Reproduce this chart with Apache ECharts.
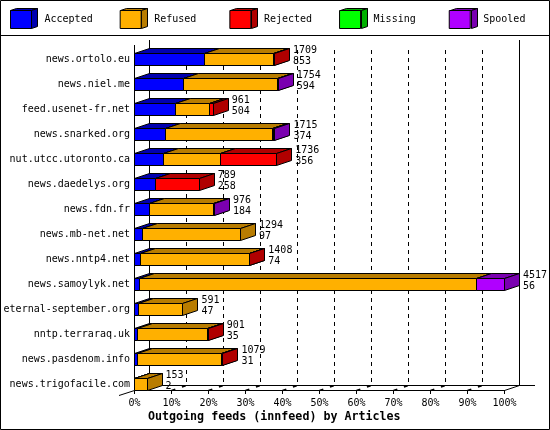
<!DOCTYPE html>
<html><head><meta charset="utf-8">
<style>html,body{margin:0;padding:0;background:#fff}#c{width:550px;height:430px}</style>
<script src="https://cdn.jsdelivr.net/npm/echarts@6/dist/echarts.min.js"></script>
</head><body><div id="c"></div>
<script>
const categories = ["news.ortolo.eu","news.niel.me","feed.usenet-fr.net","news.snarked.org","nut.utcc.utoronto.ca","news.daedelys.org","news.fdn.fr","news.mb-net.net","news.nntp4.net","news.samoylyk.net","eternal-september.org","nntp.terraraq.uk","news.pasdenom.info","news.trigofacile.com"];
const totals   = [1709,1754,961,1715,1736,789,976,1294,1408,4517,591,901,1079,153];
const accepted = [853,594,504,374,356,258,184,97,74,56,47,35,31,2];
const refused  = [840,1150,412,1308,696,0,783,1197,1328,4117,544,854,1034,151];
const rejected = [16,0,45,16,684,531,0,0,6,0,0,12,14,0];
const missing  = [0,0,0,0,0,0,0,0,0,0,0,0,0,0];
const spooled  = [0,10,0,17,0,0,9,0,0,344,0,0,0,0];
const seriesNames = ["Accepted","Refused","Rejected","Missing","Spooled"];
const faceColors = ["#0000FF","#FFB000","#FF0000","#00FF00","#B000FF"];
const darkColors = ["#0000B0","#B87C00","#B00000","#00B000","#7A00B0"];
const xTicks = [0,10,20,30,40,50,60,70,80,90,100];
const title = "Outgoing feeds (innfeed) by Articles";

const FONT = '"DejaVu Sans Mono"';
const DX = 15, DY = 5;
const maxTotal = Math.max(...totals);
const pct = v => v / maxTotal * 100;
const snap = v => Math.round(v - 0.5) + 0.5;

function barItem(seriesIdx) {
  return function (params, api) {
    const s = api.value(0), e = api.value(1), cat = api.value(2);
    if (e <= s) return null;
    const p0 = api.coord([s, cat]), p1 = api.coord([e, cat]);
    const x0 = snap(p0[0]), x1 = snap(p1[0]);
    const top = snap(p0[1] - 6.5), bot = snap(p0[1] + 6);
    const line = { stroke: '#000', lineWidth: 1 };
    const dark = darkColors[seriesIdx];
    return { type: 'group', children: [
      { type: 'polygon', shape: { points: [[x0, top],[x0 + DX, top - DY],[x1 + DX, top - DY],[x1, top]] }, style: { fill: dark, ...line } },
      { type: 'polygon', shape: { points: [[x1, top],[x1 + DX, top - DY],[x1 + DX, bot - DY],[x1, bot]] }, style: { fill: dark, ...line } },
      { type: 'rect', shape: { x: x0, y: top, width: x1 - x0, height: bot - top }, style: { fill: faceColors[seriesIdx], ...line } }
    ]};
  };
}

const stacks = [accepted, refused, rejected, missing, spooled];
const running = categories.map(() => 0);
const barSeries = stacks.map((arr, si) => {
  const data = arr.map((v, i) => {
    const s = running[i]; running[i] += v;
    return [pct(s), pct(running[i]), i];
  });
  return {
    type: 'custom', name: seriesNames[si], xAxisIndex: 0, yAxisIndex: 0, z: 5 + si,
    clip: false, itemStyle: { color: faceColors[si] },
    encode: { x: [0, 1], y: 2 }, data, renderItem: barItem(si)
  };
});

const labelSeries = {
  type: 'custom', name: 'values', xAxisIndex: 0, yAxisIndex: 0, z: 20, clip: false, silent: true,
  encode: { x: 0, y: 1 },
  data: totals.map((t, i) => [pct(t), i, t, accepted[i]]),
  renderItem(params, api) {
    const p = api.coord([api.value(0), api.value(1)]);
    const st = t => ({ text: String(t), fill: '#000', font: '10px ' + FONT, textAlign: 'left', textVerticalAlign: 'middle' });
    return { type: 'group', children: [
      { type: 'text', x: p[0] + 18.5, y: p[1] - 9.5, style: st(api.value(2)) },
      { type: 'text', x: p[0] + 18.5, y: p[1] + 1.5, style: st(api.value(3)) }
    ]};
  }
};

const floorSeries = {
  type: 'custom', name: 'floor', xAxisIndex: 0, yAxisIndex: 0, z: 2, clip: false, silent: true,
  encode: { x: 0 },
  data: xTicks.slice(1, -1).map(t => [t]),
  renderItem(params, api) {
    const x = snap(api.coord([api.value(0), 0])[0]);
    return { type: 'line', shape: { x1: x, y1: 390.5, x2: x + DX, y2: 385.5 },
      style: { stroke: '#000', lineWidth: 1.5, lineDash: [4, 7] } };
  }
};

const legendDecor = [];
faceColors.forEach((c, i) => {
  const x = 10.5 + 110 * i, r = x + 21, t = 10.5, b = 28.5, d = 6, u = 2;
  legendDecor.push(
    { type: 'polygon', shape: { points: [[x, t],[x + d, t - u],[r + d, t - u],[r, t]] }, style: { fill: darkColors[i], stroke: '#000', lineWidth: 1 } },
    { type: 'polygon', shape: { points: [[r, t],[r + d, t - u],[r + d, b - u],[r, b]] }, style: { fill: darkColors[i], stroke: '#000', lineWidth: 1 } }
  );
});
const lines = [
  [134.5, 45, 134.5, 390.5], [149.5, 40, 149.5, 385.5], [519.5, 40, 519.5, 385.5],
  [149.5, 385.5, 535, 385.5], [119, 395.5, 134.5, 390.5], [504.5, 390.5, 519.5, 385.5]
].map(l => ({ type: 'line', z: 1, shape: { x1: l[0], y1: l[1], x2: l[2], y2: l[3] }, style: { stroke: '#000', lineWidth: 1 } }));

const chart = echarts.init(document.getElementById('c'), null, { renderer: 'canvas' });
chart.setOption({
  animation: false,
  backgroundColor: '#fff',
  title: { text: title, left: 148, top: 411, padding: 0, textStyle: { fontFamily: FONT, fontSize: 11.67, fontWeight: 'bold', color: '#000' } },
  legend: {
    left: 10, top: 10, padding: 0, itemWidth: 21, itemHeight: 18, itemGap: 27,
    selectedMode: false, orient: 'horizontal',
    data: seriesNames.map(n => ({ name: n, icon: 'rect', itemStyle: { borderColor: '#000', borderWidth: 1 } })),
    formatter: n => ' ' + n.padEnd(8, ' '),
    textStyle: { fontFamily: FONT, fontSize: 10, color: '#000', padding: [0, 0, 0, 2] }
  },
  grid: [
    { left: 134.5, width: 370, top: 47, height: 350 },
    { left: 149.5, width: 370, top: 50, height: 335 }
  ],
  xAxis: [
    { type: 'value', gridIndex: 0, min: 0, max: 100, interval: 10, position: 'bottom', offset: -7,
      axisLine: { show: true, onZero: false, lineStyle: { color: '#000', width: 1 } },
      axisTick: { show: true, length: 4, lineStyle: { color: '#000', width: 1 } },
      splitLine: { show: false },
      axisLabel: { show: true, margin: 8, color: '#000', fontFamily: FONT, fontSize: 10, formatter: '{value}%', hideOverlap: false, showMinLabel: true, showMaxLabel: true } },
    { type: 'value', gridIndex: 1, min: 0, max: 100, interval: 10,
      axisLine: { show: false }, axisTick: { show: false }, axisLabel: { show: false },
      splitLine: { show: true, showMinLine: false, showMaxLine: false, lineStyle: { color: '#000', width: 1, type: [4, 4] } } }
  ],
  yAxis: [
    { type: 'category', gridIndex: 0, inverse: true, data: categories,
      axisLine: { show: false }, axisTick: { show: false },
      axisLabel: { margin: 4.5, interval: 0, color: '#000', fontFamily: FONT, fontSize: 10 } },
    { type: 'category', gridIndex: 1, inverse: true, data: categories, show: false }
  ],
  series: [floorSeries, ...barSeries, labelSeries],
  graphic: [
    { type: 'rect', z: 50, shape: { x: 0.5, y: 0.5, width: 549, height: 429 }, style: { fill: 'none', stroke: '#000', lineWidth: 1 } },
    { type: 'line', z: 50, shape: { x1: 0, y1: 35.5, x2: 550, y2: 35.5 }, style: { stroke: '#000', lineWidth: 1 } },
    ...lines, ...legendDecor
  ]
});
</script></body></html>
